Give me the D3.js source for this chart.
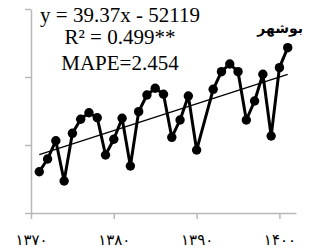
<!DOCTYPE html>
<html>
<head>
<meta charset="utf-8">
<script src="https://cdn.jsdelivr.net/npm/d3@7"></script>
<style>
  body { margin: 0; background: #fff; }
  svg { display: block; }
</style>
</head>
<body>
<div id="chart"></div>
<script>
// data (1391 is missing in the source)
const years = [1371, 1372, 1373, 1374, 1375, 1376, 1377, 1378, 1379, 1380,
    1381, 1382, 1383, 1384, 1385, 1386, 1387, 1388, 1389, 1390,
    1392, 1393, 1394, 1395, 1396, 1397, 1398, 1399, 1400, 1401];
const values = [1607, 1794, 2063, 1471, 2172, 2378, 2475, 2401, 1853, 2084,
    2393, 1691, 2490, 2735, 2834, 2746, 2113, 2368, 2721, 1926,
    2819, 3078, 3191, 3078, 2368, 2647, 3040, 2132, 3137, 3431];
const xTicks = [1370, 1380, 1390, 1400];
const xTickLabels = ['۱۳۷۰', '۱۳۸۰', '۱۳۹۰', '۱۴۰۰'];
const yTicks = [1000, 2000, 3000, 4000];
const trend = { slope: 39.37, intercept: -52119 };
const statLines = ['y = 39.37x - 52119', 'R² = 0.499**', 'MAPE=2.454'];
const stationName = 'بوشهر';

const width = 309, height = 251;

const svg = d3.select('#chart')
    .append('svg')
    .attr('width', width)
    .attr('height', height);

const x = d3.scaleLinear().domain([1370, 1402]).range([31, 296]);
const y = d3.scaleLinear().domain([1000, 4000]).range([213, 9]);

// axes
const yAxis = svg.append('g')
    .attr('transform', `translate(${x(1370)},0)`)
    .call(d3.axisLeft(y).tickValues(yTicks).tickFormat('').tickSize(6).tickSizeOuter(0));

const xAxis = svg.append('g')
    .attr('transform', `translate(0,${y(1000)})`)
    .call(d3.axisBottom(x).tickValues(xTicks)
        .tickFormat((d, i) => xTickLabels[i])
        .tickSize(6).tickSizeOuter(0).tickPadding(15));

[yAxis, xAxis].forEach(a => {
    a.selectAll('path, line').attr('stroke', '#b8b8b8').attr('stroke-width', 1.5);
});
xAxis.selectAll('text')
    .attr('fill', '#000')
    .style('font-family', '"DejaVu Sans", sans-serif')
    .style('font-size', '15px');

// trend line
const tx = [years[0], years[years.length - 1]];
svg.append('line')
    .attr('x1', x(tx[0]))
    .attr('y1', y(trend.slope * tx[0] + trend.intercept))
    .attr('x2', x(tx[1]))
    .attr('y2', y(trend.slope * tx[1] + trend.intercept))
    .attr('stroke', '#000')
    .attr('stroke-width', 1.3);

// series
const pts = years.map((yr, i) => ({ yr, v: values[i] }));
const line = d3.line().x(d => x(d.yr)).y(d => y(d.v));

svg.append('path')
    .datum(pts)
    .attr('d', line)
    .attr('fill', 'none')
    .attr('stroke', '#000')
    .attr('stroke-width', 3)
    .attr('stroke-linejoin', 'round');

svg.append('g')
    .selectAll('circle')
    .data(pts)
    .enter().append('circle')
    .attr('cx', d => x(d.yr))
    .attr('cy', d => y(d.v))
    .attr('r', 4.7)
    .attr('fill', '#000');

// equation box
const baselines = [22, 44, 70];
svg.append('g')
    .selectAll('text')
    .data(statLines)
    .enter().append('text')
    .attr('x', 120)
    .attr('y', (d, i) => baselines[i])
    .attr('text-anchor', 'middle')
    .style('font-family', '"Liberation Serif", "Times New Roman", serif')
    .style('font-size', '21px')
    .text(d => d);

svg.append('text')
    .attr('x', 303)
    .attr('y', 33)
    .attr('text-anchor', 'end')
    .style('font-family', '"DejaVu Sans", sans-serif')
    .style('font-size', '14px')
    .style('font-weight', 'bold')
    .text(stationName);
</script>
</body>
</html>
